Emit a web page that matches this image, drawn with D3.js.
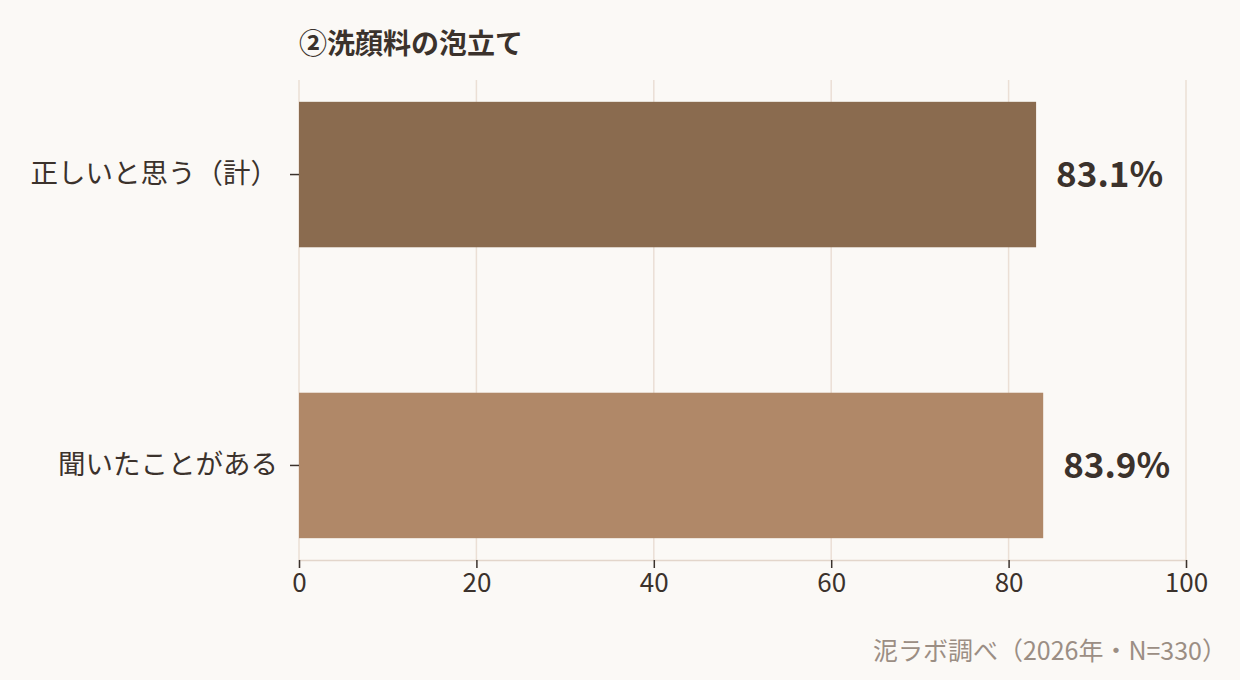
<!DOCTYPE html>
<html>
<head>
<meta charset="utf-8">
<script src="https://cdn.jsdelivr.net/npm/d3@7"></script>
<style>
  body { margin: 0; background: #fbf9f6; }
  #chart svg { display: block; }
</style>
</head>
<body>
<div id="chart"></div>
<script>
const categories = ["正しいと思う（計）", "聞いたことがある"];
const values = [83.1, 83.9];
const barColors = ["#8a6b4f", "#b08868"];
const xTicks = [0, 20, 40, 60, 80, 100];
const title = "②洗顔料の泡立て";
const source = "泥ラボ調べ（2026年・N=330）";

const W = 1240, H = 680;
const margin = { top: 80, right: 54, bottom: 120, left: 299 };
const width = W - margin.left - margin.right;
const height = H - margin.top - margin.bottom;
const font = "'Noto Sans CJK JP', 'Noto Sans', sans-serif";
const ink = "#3b322c";

const svg = d3.select("#chart")
    .append("svg")
    .attr("width", W)
    .attr("height", H)
    .style("background", "#fbf9f6")
    .style("font-family", font);

const g = svg.append("g")
    .attr("transform", `translate(${margin.left},${margin.top})`);

const x = d3.scaleLinear()
    .domain([0, 100])
    .range([0, width]);

const y = d3.scaleBand()
    .domain(categories)
    .range([0, height])
    .paddingInner(0.5)
    .paddingOuter(0.075);

// grid
g.selectAll(".grid")
    .data(xTicks)
    .enter()
    .append("line")
    .attr("x1", d => x(d))
    .attr("x2", d => x(d))
    .attr("y1", 0)
    .attr("y2", height)
    .attr("stroke", "#ebdfd5")
    .attr("stroke-width", 1.5);

// bars
g.selectAll(".bar")
    .data(values)
    .enter()
    .append("rect")
    .attr("x", 0)
    .attr("y", (d, i) => y(categories[i]))
    .attr("width", d => x(d))
    .attr("height", y.bandwidth())
    .attr("fill", (d, i) => barColors[i]);

// value labels
g.selectAll(".label")
    .data(values)
    .enter()
    .append("text")
    .attr("x", d => x(d) + 20)
    .attr("y", (d, i) => y(categories[i]) + y.bandwidth() / 2)
    .attr("dy", "0.35em")
    .attr("font-size", "35px")
    .attr("font-weight", "bold")
    .attr("fill", ink)
    .text(d => d.toFixed(1) + "%");

// x axis
const xAxis = g.append("g")
    .attr("transform", `translate(0,${height})`)
    .call(d3.axisBottom(x).tickValues(xTicks).tickSize(8).tickPadding(6));
xAxis.select(".domain").attr("stroke", "#e3d6cb").attr("stroke-width", 1.5);
xAxis.selectAll(".tick line").attr("stroke", ink).attr("stroke-width", 1.5);
xAxis.selectAll("text")
    .attr("font-family", font)
    .attr("font-size", "26px")
    .attr("fill", ink);

// y axis
const yAxis = g.append("g")
    .call(d3.axisLeft(y).tickSize(9).tickPadding(12));
yAxis.select(".domain").remove();
yAxis.selectAll(".tick line").attr("stroke", ink).attr("stroke-width", 1.5);
yAxis.selectAll("text")
    .attr("font-family", font)
    .attr("font-size", "27.5px")
    .attr("fill", ink);

// title
svg.append("text")
    .attr("x", margin.left)
    .attr("y", 54)
    .attr("font-size", "28px")
    .attr("font-weight", "bold")
    .attr("fill", ink)
    .text(title);

// source
svg.append("text")
    .attr("x", 1227)
    .attr("y", 660)
    .attr("text-anchor", "end")
    .attr("font-size", "25px")
    .attr("fill", "#9b8e84")
    .text(source);
</script>
</body>
</html>
